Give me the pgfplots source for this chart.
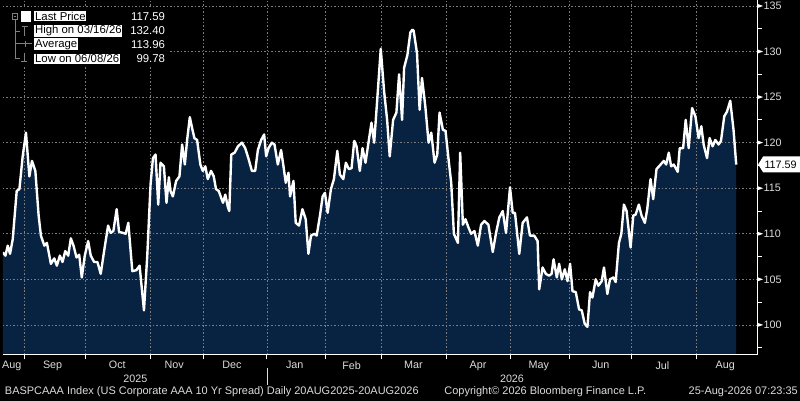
\documentclass[border=0pt]{standalone}
\usepackage{pgfplots}
\pgfplotsset{compat=1.18}
\usepackage{pgfplotstable}
\usepackage{fontspec}
\setmainfont{Liberation Sans}
\definecolor{navy}{RGB}{8,34,66}
\definecolor{gridgray}{RGB}{125,125,125}
\definecolor{txtgray}{RGB}{220,220,220}
\newcommand\tf{\fontsize{10.8bp}{12bp}\selectfont}
\newcommand\ff{\fontsize{11bp}{12bp}\selectfont}
\newcommand\lf{\fontsize{11.4bp}{13bp}\selectfont}

\pgfplotstableread{
x v
0 107.95
2.7 107.6
5 108.7
7.3 107.8
10 109.4
14 114.7
16.7 114.9
20 118.5
23.3 121.1
26.7 116.3
29.3 118.0
32.7 116.9
36 112.0
38.3 109.8
41.7 108.7
44.3 109.0
48.3 106.7
51.7 107.3
54.3 106.5
57.3 107.6
60 106.9
62.7 108.1
65.7 107.6
68.3 109.5
71 108.7
74 107.4
76.7 107.7
79.3 105.2
82.3 107.6
85.7 109.2
88.3 107.6
91.7 106.9
95 106.9
98.3 105.6
101.7 108.1
105.7 110.9
108.3 110.1
111 110.3
114.3 112.7
116.7 110.2
120.7 110.1
123.3 110.0
126 111.2
130 105.9
134 106.0
137.3 106.5
141.7 101.6
145 107.6
148.3 115.4
150.7 118.3
153.3 118.7
156 113.2
158.3 117.8
161.7 117.4
164.3 113.4
166.7 116.2
168.3 114.7
170.7 114.1
174 115.8
177.3 116.3
180 119.8
182.7 117.6
185 120.3
187.7 122.8
190 121.6
192.3 120.5
195 120.3
198.3 117.6
200.7 116.9
203.3 117.4
205.7 116.0
209 116.9
211.7 116.3
214 114.9
216.7 114.7
219 114.0
221 113.4
223.3 114.3
225.7 113.0
227.3 112.5
229.3 118.7
232.7 118.9
236 119.6
240 120.0
243.3 119.4
246.7 118.2
250 116.9
253.3 116.9
256 119.2
259.3 120.3
262.3 120.9
264.3 118.5
266.7 119.4
270 120.0
272.7 119.8
276 117.6
279.3 119.2
281.7 117.4
284 115.6
286.7 116.7
288.3 114.1
291.7 115.8
294 111.2
297.3 110.9
300.7 112.7
304 111.6
306.7 107.8
309.3 109.8
312.7 110.0
315 109.8
318.3 112.0
321 114.1
323.3 114.5
326 112.3
329.3 114.9
332.3 116.0
335.7 119.1
338.3 116.5
341.7 116.0
344.3 117.8
347.3 117.1
350 117.2
352.7 120.2
355 119.6
358.3 116.9
361 119.4
364 117.8
366.7 119.8
370 122.2
372.7 120.0
376 125.1
379.3 130.3
382.7 125.6
385.7 122.5
388.3 118.5
391.7 122.5
395 123.3
397.7 127.5
400.7 122.5
402.7 128.2
406 129.6
409 132.1
411 132.40
412.3 132.3
415.7 129.8
418.3 123.6
420.7 127.1
424 124.0
427.3 120.0
430 121.1
433.3 117.8
436 118.7
438.3 123.3
441.7 121.4
444.3 121.3
447.7 117.8
450 115.6
452.7 110.0
456.7 109.0
459 118.9
461.7 111.0
464.3 111.6
467.3 110.7
470 110.0
473.3 110.3
476.7 108.7
480 111.0
483.3 111.4
487.3 111.0
491.7 108.0
495 110.1
498.3 111.8
501.7 112.5
505 110.1
509 115.1
511.7 112.3
514 112.3
518.3 107.8
521.7 111.2
526 111.8
529 109.8
533.3 109.8
536.7 109.2
538.3 103.9
541.7 106.3
545 105.6
548.3 105.4
550.7 105.6
552.7 107.2
556 105.2
558.3 106.7
561 105.0
564 106.1
566.7 104.8
569.3 106.7
571.7 103.7
575 103.6
578.3 101.7
581 101.6
584 100.1
586.7 99.78
589.3 103.6
591.7 103.0
595 105.0
597.7 104.3
601 104.8
603.3 106.3
606.7 103.4
609.3 105.0
612.7 105.2
615 104.7
618.3 109.0
620.7 110.0
623.3 113.2
626 112.5
630 108.5
632.7 112.0
635 112.1
638.3 113.2
641 112.0
644.3 111.2
646.7 112.7
650 116.0
652.7 113.8
656 117.1
659.3 117.5
663.3 118.0
665.7 117.6
668.3 118.9
670.7 117.4
673.3 117.6
677.3 116.8
679.3 119.4
682.7 119.4
685.3 122.5
688.3 119.4
691.7 123.8
695 122.9
698.3 120.5
701 121.8
703.3 119.8
706.7 118.3
709.3 120.5
712.3 119.6
715 120.3
718.3 119.8
720.7 120.2
724 122.9
726.7 123.4
730 124.6
733.3 121.4
736 117.59
}\spread

\begin{document}
\pagecolor{black}
\begin{tikzpicture}
\begin{axis}[
  at={(0bp,46bp)}, anchor=south west,
  scale only axis, width=757bp, height=356bp,
  xmin=0, xmax=757, ymin=96.72, ymax=135.66,
  set layers, clip mode=individual,
  axis x line*=bottom, axis y line*=right,
  axis line style={white, line width=0.9bp, -},
  tick align=outside,
  major tick length=0bp, minor tick length=4.5bp,
  minor tick style={white, line width=0.8bp},
  xtick={9,50,115,172,230,293,350,412,477,538,600,662,725},
  xticklabels={Aug,Sep,Oct,Nov,Dec,Jan,Feb,Mar,Apr,May,Jun,Jul,Aug},
  minor xtick={22,83,148,201,265,324,380,445,509,569,631,696},
  xminorgrids=true, xmajorgrids=false,
  ytick={100,105,...,135},
  minor ytick={97.5,102.5,...,132.5},
  ymajorgrids=true,
  grid style={gridgray, line width=0.65bp, dash pattern=on 1.5bp off 2bp},
  minor grid style={gridgray, line width=0.65bp, dash pattern=on 1.5bp off 2bp},
  ticklabel style={font=\tf, text=txtgray},
  xticklabel style={yshift=-3bp},
  yticklabel style={anchor=west, xshift=3bp},
  /pgf/number format/assume math mode=true,
  yticklabel={\pgfmathprintnumber[fixed]{\tick}},
]
\addplot[fill=navy, draw=none, on layer=axis background] table[x=x,y=v] {\spread} \closedcycle;
\addplot[white, line width=2.4bp, line join=round] table[x=x,y=v] {\spread};
\end{axis}
\begin{scope}[shift={(0,402bp)}, x=1bp, y=-1bp]
  % y tick markers
  \foreach \yy in {326,280.3,234.6,188.9,143.1,97.4,51.7,6}{
    \fill[white] (757.5,\yy-2) -- (763,\yy) -- (757.5,\yy+2) -- cycle;}
  % last price tag
  \fill[white] (758,165) -- (763,157) -- (800,157) -- (800,173) -- (763,173) -- cycle;
  \node[text=black, font=\tf, inner sep=0] at (780.5,165) {117.59};
  % legend
  \fill[black] (0,8) rectangle (168,67);
  \begin{scope}[draw=gray, line width=0.7bp]
    \draw (9.5,13.5) rectangle (15,19);
    \draw (10.8,16.25) -- (13.7,16.25);
    \draw (12.25,19) -- (12.25,59);
    \draw (12.25,31) -- (17,31);
    \draw (12.25,59) -- (17,59);
    \draw (19,26) -- (25,26) (22,26) -- (22,36);
    \draw (12.25,44) -- (29,44) (23,41) -- (23,47);
    \draw (21.5,53) -- (21.5,62) (18.5,62) -- (24.5,62);
  \end{scope}
  \fill[white] (18,11) rectangle (28,22);
  \begin{scope}[every node/.style={anchor=west, fill=white, text=black, inner sep=0.8bp, font=\lf}]
    \node at (31.5,16.5) {Last Price};
    \node at (31.5,31) {High on 03/16/26};
    \node at (31.5,44.5) {Average};
    \node at (31.5,59) {Low on 06/08/26};
  \end{scope}
  \begin{scope}[every node/.style={anchor=east, text=white, inner sep=0, font=\lf}]
    \node at (163,16.5) {117.59};
    \node at (163,31) {132.40};
    \node at (163,44.5) {113.96};
    \node at (163,59) {99.78};
  \end{scope}
  % year labels
  \node[text=txtgray, font=\tf, inner sep=0] at (133,380) {2025};
  \node[text=txtgray, font=\tf, inner sep=0] at (511,380) {2026};
  \draw[txtgray, line width=0.6bp] (265,369) -- (265,386);
  % footer
  \node[anchor=west, text=txtgray, font=\ff, inner sep=0] at (2,393.5) {BASPCAAA Index (US Corporate AAA 10 Yr Spread) Daily 20AUG2025-20AUG2026};
  \node[anchor=west, text=txtgray, font=\ff, inner sep=0] at (443,393.5) {Copyright© 2026 Bloomberg Finance L.P.};
  \node[anchor=east, text=txtgray, font=\ff, inner sep=0] at (798,393.5) {25-Aug-2026 07:23:35};
\end{scope}
\pgfresetboundingbox
\useasboundingbox (0,0) rectangle (800bp,402bp);
\end{tikzpicture}
\end{document}
